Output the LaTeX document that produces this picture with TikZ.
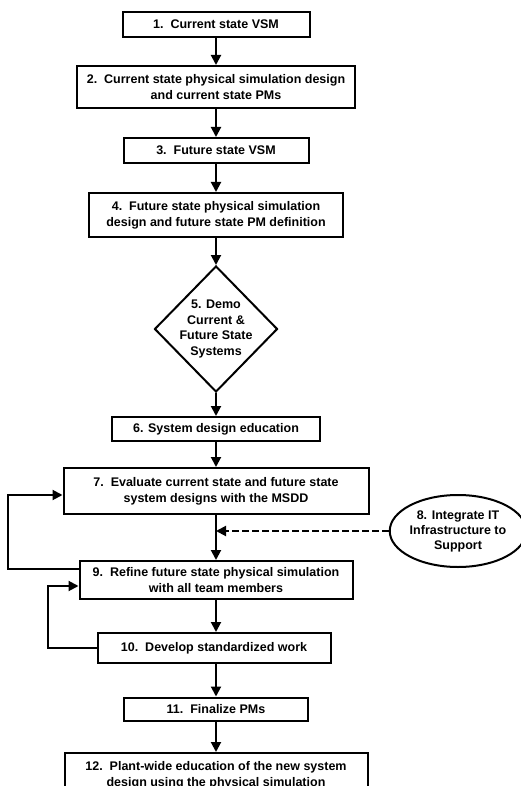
\documentclass[tikz,border=0pt]{standalone}
\usepackage{fontspec}
\setmainfont{Liberation Sans}
\usetikzlibrary{arrows.meta,shapes.geometric}

\begin{document}
\begin{tikzpicture}[x=1pt,y=-1pt,
  every node/.style={font=\fontsize{12.5}{16}\selectfont\bfseries},
  stepbox/.style={draw,line width=2pt,rectangle,inner sep=0pt,align=center},
  arr/.style={line width=2pt,-{Triangle[length=10pt,width=10pt]}},
  darr/.style={arr,dash pattern=on 7pt off 3pt},
  loop/.style={arr}]
  \useasboundingbox (0,0) rectangle (521,786);
  \clip (0,0) rectangle (521,786);

  % process steps, top to bottom
  \node[stepbox,minimum width=187,minimum height=25] (b1) at (216,24.5) {1.\ \ Current state VSM};
  \node[stepbox,minimum width=278,minimum height=42] (b2) at (216,87) {2.\ \ Current state physical simulation design\\and current state PMs};
  \node[stepbox,minimum width=185,minimum height=25] (b3) at (216,150.5) {3.\ \ Future state VSM};
  \node[stepbox,minimum width=254,minimum height=44] (b4) at (216,215) {4.\ \ Future state physical simulation\\design and future state PM definition};
  \node[diamond,draw,line width=2pt,minimum width=123,minimum height=126,inner sep=0pt] (d5) at (216,329) {};
  \node[align=center,font=\fontsize{12.5}{15.5}\selectfont\bfseries] (t5) at (d5) {5. Demo\\Current \&\\Future State\\Systems};
  \node[stepbox,minimum width=208,minimum height=24] (b6) at (216,429) {6. System design education};
  \node[stepbox,minimum width=305,minimum height=46] (b7) at (216,491) {7.\ \ Evaluate current state and future state\\system designs with the MSDD};
  \node[ellipse,draw,line width=2pt,minimum width=124,minimum height=72,inner sep=0pt,align=center,font=\fontsize{12.5}{15}\selectfont\bfseries] (e8) at (458,531) {8. Integrate IT\\Infrastructure to\\Support};
  \node[stepbox,minimum width=273,minimum height=38] (b9) at (216,580) {9.\ \ Refine future state physical simulation\\with all team members};
  \node[stepbox,minimum width=233,minimum height=30] (b10) at (214,648) {10.\ \ Develop standardized work};
  \node[stepbox,minimum width=184,minimum height=23] (b11) at (216,709) {11.\ \ Finalize PMs};
  \node[stepbox,minimum width=303,minimum height=44] (b12) at (216,775) {12.\ \ Plant-wide education of the new system\\design using the physical simulation};

  % main flow
  \draw[arr] (b1) -- (b2);
  \draw[arr] (b2) -- (b3);
  \draw[arr] (b3) -- (b4);
  \draw[arr] (b4) -- (d5);
  \draw[arr] (d5) -- (b6);
  \draw[arr] (b6) -- (b7);
  \draw[arr] (b7) -- (b9);
  \draw[arr] (b9.south -| b9) -- (b10.north -| b9);
  \draw[arr] (b10.south -| b9) -- (b11.north -| b9);
  \draw[arr] (b11) -- (b12);

  % IT support feeding the evaluation step
  \coordinate (join) at (e8.west -| b7);
  \draw[darr] (e8.west) -- (join);

  % feedback loops
  \draw[loop] ([yshift=11pt]b9.west) -- ++(-71,0) |- ([yshift=-4pt]b7.west);
  \draw[loop] (b10.west) -- ++(-49,0) |- ([yshift=-6pt]b9.west);
\end{tikzpicture}
\end{document}
